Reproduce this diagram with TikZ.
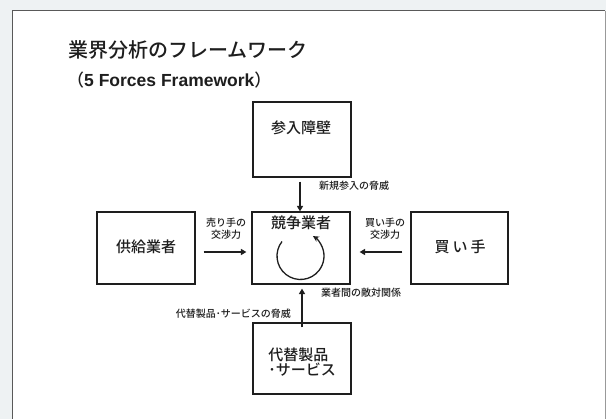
\documentclass[tikz,border=0pt]{standalone}
\usepackage{fontspec}
\setmainfont{Noto Sans CJK JP}
\newfontfamily\medf{Noto Sans CJK JP Medium}
\newfontfamily\arialb{Liberation Sans}
\usetikzlibrary{arrows.meta}
\definecolor{bgc}{HTML}{EEF2F3}
\definecolor{ink}{HTML}{1E1E1E}
\begin{document}
\begin{tikzpicture}[x=1pt,y=1pt,
  box/.style={draw=ink,line width=1.2pt,rectangle,inner sep=0pt,minimum width=98pt,minimum height=#1},
  box/.default=72pt,
  lbl/.style={text=ink,font=\fontsize{15}{16}\selectfont\medf,inner sep=0pt},
  sm/.style={text=ink,font=\fontsize{10}{11.5}\selectfont\medf,inner sep=0pt,align=center},
  arr/.style={draw=ink,line width=1.8pt,-{Triangle[length=5.5pt,width=6pt]}}]
\useasboundingbox (0,0) rectangle (606,-419);
\fill[bgc] (0,0) rectangle (606,-419);
\fill[white] (12,-11) rectangle (605,-419);
\draw[gray!70!black,line width=1pt] (12,-419) -- (12,-11) -- (605,-11);
\draw[gray!80,line width=1pt] (605,-11) -- (605,-419);
% title
\node[anchor=west,text=ink,font=\fontsize{20}{22}\selectfont\medf,inner sep=0pt] (title) at (68,-50) {業界分析のフレームワーク};
\node[anchor=west,text=ink,font=\fontsize{17}{18}\selectfont\medf,inner sep=0pt] (sub) at (67,-80) {（{\fontsize{17.5}{18}\selectfont\arialb\bfseries 5 Forces Framework}）};
% boxes
\node[box=75pt] (entry) at (302,-139.5) {};
\node[box] (comp) at (301,-248) {};
\node[box] (sup) at (146,-248) {};
\node[box=72pt,minimum width=97pt] (buy) at (459.5,-248) {};
\node[box=71pt] (subst) at (302,-358.5) {};
% box labels
\node[lbl] (lentry) at (301,-128) {参入障壁};
\node[lbl] (lcomp) at (301,-223) {競争業者};
\node[lbl] (lsup) at (146,-247) {供給業者};
\node[lbl] (lbuy) at (460,-247) {買\hspace{3pt}い\hspace{3pt}手};
\node[lbl,align=left] (lsubst) at (302,-362) {代替製品\\[-1pt]･サービス};
% arrows
\draw[arr] ([xshift=-2pt,yshift=-4pt]entry.south) -- ([xshift=-1pt]comp.north);
\draw[arr] ([xshift=8pt,yshift=-4pt]sup.east) -- ([xshift=-5pt,yshift=-4pt]comp.west);
\draw[arr] ([xshift=-8pt,yshift=-4pt]buy.west) -- ([xshift=9pt,yshift=-4pt]comp.east);
\draw[arr] ([yshift=-5pt]subst.north) -- ([xshift=1pt,yshift=-4pt]comp.south);
% arrow labels
\node[sm] (lsell) at (226,-228.5) {売り手の\\交渉力};
\node[sm] (lbuyp) at (385,-228.5) {買い手の\\交渉力};
\node[sm,anchor=west] (lnew) at (319,-186) {新規参入の脅威};
\node[sm,anchor=west] (lriv) at (321,-293) {業者間の敵対関係};
\node[sm,anchor=east] (lsubt) at (291,-314) {代替製品･サービスの脅威};
% rivalry cycle
\coordinate (cc) at (300.5,-256);
\draw[draw=ink,line width=1.3pt,-{Stealth[length=6pt,width=6pt]}] (cc) ++(142:23.5) arc[start angle=142,end angle=418,radius=23.5];
\end{tikzpicture}
\end{document}
